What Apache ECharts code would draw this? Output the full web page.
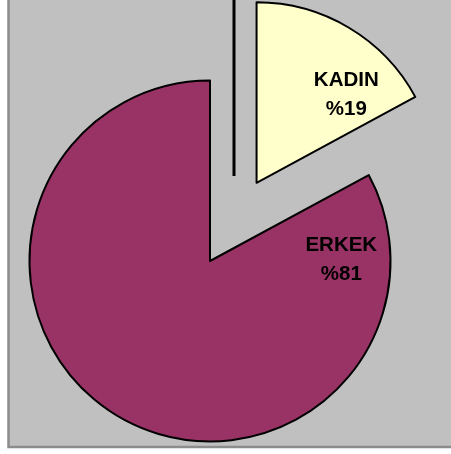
<!DOCTYPE html>
<html>
<head>
<meta charset="utf-8">
<script src="https://cdn.jsdelivr.net/npm/echarts@6/dist/echarts.min.js"></script>
<style>html,body{margin:0;padding:0;background:#fff}#c{width:451px;height:454px}</style>
</head>
<body>
<div id="c"></div>
<script>
// Data
const categories = ['KADIN', 'ERKEK'];
const values = [17.1, 82.9];          // slice sizes as drawn
const labelTexts = ['%19', '%81'];    // printed labels
const exploded = [true, false];
const colors = ['#FFFFCC', '#993366'];
const labelOffsets = [[42, -8], [179, -81]];

const chart = echarts.init(document.getElementById('c'), null, {renderer: 'canvas'});
const data = categories.map((name, i) => ({
  name: name,
  value: values[i],
  selected: exploded[i],
  itemStyle: {color: colors[i]},
  select: {
    itemStyle: {color: colors[i], borderColor: '#000', borderWidth: 2},
    label: {offset: labelOffsets[i]}
  },
  label: {offset: labelOffsets[i]}
}));

chart.setOption({
  backgroundColor: '#fff',
  animation: false,
  graphic: [
    {type: 'rect', z: -10, silent: true,
     shape: {x: 8.5, y: -10, width: 460, height: 457},
     style: {fill: '#C0C0C0', stroke: '#8C8C8C', lineWidth: 2.5}},
    {type: 'line', z: 10, silent: true,
     shape: {x1: 234, y1: 0, x2: 234, y2: 176},
     style: {stroke: '#000', lineWidth: 3}}
  ],
  series: [{
    type: 'pie',
    center: [210, 261],
    radius: 180.5,
    startAngle: 90,
    clockwise: true,
    selectedMode: 'single',
    selectedOffset: 91,
    silent: true,
    itemStyle: {borderColor: '#000', borderWidth: 2},
    emphasis: {disabled: true},
    label: {
      show: true,
      position: 'inside',
      color: '#000',
      fontFamily: 'Liberation Sans, Arial, sans-serif',
      fontWeight: 'bold',
      fontSize: 20.5,
      lineHeight: 29,
      align: 'center',
      formatter: p => p.name + '\n' + labelTexts[p.dataIndex]
    },
    labelLine: {show: false},
    data: data
  }]
});
</script>
</body>
</html>
